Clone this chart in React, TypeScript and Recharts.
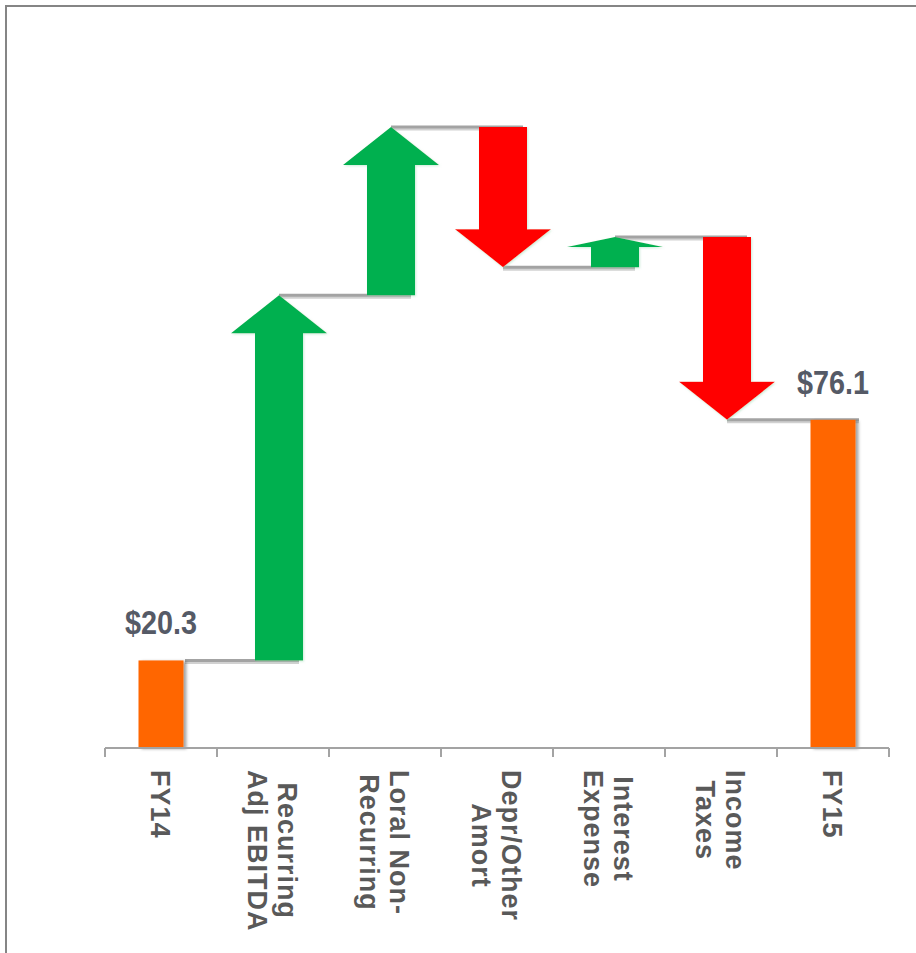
import { BarChart, Bar, XAxis, YAxis } from 'recharts'

// FY14 -> FY15 bridge, $M
const categories = [
  'FY14',
  'Recurring\nAdj EBITDA',
  'Loral Non-\nRecurring',
  'Depr/Other\nAmort',
  'Interest\nExpense',
  'Income\nTaxes',
  'FY15',
]
const changes = [20.3, 84.7, 39.0, -32.5, 7.0, -42.4, 76.1]
const isTotal = [true, false, false, false, false, false, true]
const totalLabels = ['$20.3', '', '', '', '', '', '$76.1']
const yDomain = [0, 160]

const W = 916
const H = 953
const margin = { top: 58, right: 27, bottom: 10, left: 105 }
const AXIS_H = 195
const BAND = (W - margin.left - margin.right) / categories.length

const ORANGE = '#ff6600'
const GREEN = '#00b050'
const RED = '#ff0000'
const LINE = '#a3a3a3'
const TEXT = '#595959'

const TICK_FONT = 27
const TICK_SPACING = 1
const TICK_LINE_H = 30
const ARROW_SHIFT = 6 // arrows sit a little right of the category centre

let running = 0
const rows = categories.map((name, i) => {
  const v = changes[i]
  let start = running
  let end = running + v
  if (isTotal[i]) {
    start = 0
    end = v
  }
  running = end
  return {
    name,
    base: Math.min(start, end),
    size: Math.abs(end - start),
    kind: isTotal[i] ? 'total' : v >= 0 ? 'up' : 'down',
    label: totalLabels[i],
    last: i === categories.length - 1,
  }
})

let measureCtx: CanvasRenderingContext2D | null = null
function textWidth(s: string) {
  if (!measureCtx) measureCtx = document.createElement('canvas').getContext('2d')
  if (!measureCtx) return s.length * TICK_FONT * 0.6
  measureCtx.font = `bold ${TICK_FONT}px "Liberation Sans"`
  return measureCtx.measureText(s).width + s.length * TICK_SPACING
}

function CategoryTick(props: any) {
  const { x, y, payload, index } = props
  const lines = String(payload.value).split('\n')
  const maxW = Math.max(...lines.map(textWidth))
  const cap = TICK_FONT * 0.72
  const n = lines.length
  return (
    <g>
      <line x1={x - BAND / 2} y1={y} x2={x - BAND / 2} y2={y + 9} stroke={LINE} strokeWidth={2} />
      {index === categories.length - 1 && (
        <line x1={x + BAND / 2} y1={y} x2={x + BAND / 2} y2={y + 9} stroke={LINE} strokeWidth={2} />
      )}
      <g transform={`translate(${x},${y + 22}) rotate(90)`}>
        {lines.map((l, k) => (
          <text
            key={k}
            x={maxW / 2}
            y={cap / 2 + (k - (n - 1) / 2) * TICK_LINE_H}
            textAnchor="middle"
            fontFamily="'Liberation Sans', Arial, sans-serif"
            fontWeight="bold"
            fontSize={TICK_FONT}
            letterSpacing={TICK_SPACING}
            fill={TEXT}
          >
            {l}
          </text>
        ))}
      </g>
    </g>
  )
}

function StepShape(props: any) {
  const { x, y, width, height, payload } = props
  if (x == null || y == null) return null
  const top = Math.min(y, y + height)
  const bot = Math.max(y, y + height)
  const kind = payload.kind
  const cx = x + width / 2 + (kind === 'total' ? 0 : ARROW_SHIFT)
  const h = bot - top
  const endY = kind === 'down' ? bot : top
  const lineStart = kind === 'total' ? x + width : cx
  const lineEnd = x + width / 2 + BAND + ARROW_SHIFT + width / 2 - 4

  const connector = !payload.last && (
    <g>
      <line x1={lineStart} y1={endY + 2} x2={lineEnd} y2={endY + 2} stroke="#000" strokeOpacity={0.18} strokeWidth={3} />
      <line x1={lineStart} y1={endY} x2={lineEnd} y2={endY} stroke={LINE} strokeWidth={3} />
    </g>
  )

  if (kind === 'total') {
    const bw = width - 3
    return (
      <g>
        {connector}
        <rect x={cx - bw / 2} y={top} width={bw} height={h} fill={ORANGE} filter="url(#shadow)" />
        {payload.label && (
          <text
            transform={`translate(${cx},${top - 26}) scale(0.9,1.06)`}
            textAnchor="middle"
            fontFamily="'Liberation Sans', Arial, sans-serif"
            fontWeight="bold"
            fontSize={32}
            fill="#555a66"
          >
            {payload.label}
          </text>
        )}
      </g>
    )
  }

  const hh = Math.min(38, h / 3)
  const sw = width / 2
  const hw = width
  let pts: number[][]
  if (kind === 'up') {
    pts = [
      [cx - sw, bot], [cx - sw, top + hh], [cx - hw, top + hh], [cx, top],
      [cx + hw, top + hh], [cx + sw, top + hh], [cx + sw, bot],
    ]
  } else {
    pts = [
      [cx - sw, top], [cx - sw, bot - hh], [cx - hw, bot - hh], [cx, bot],
      [cx + hw, bot - hh], [cx + sw, bot - hh], [cx + sw, top],
    ]
  }
  return (
    <g>
      {connector}
      <polygon
        points={pts.map((p) => p.join(',')).join(' ')}
        fill={kind === 'up' ? GREEN : RED}
        filter="url(#glow)"
      />
    </g>
  )
}

export default function App() {
  return (
    <div style={{ position: 'absolute', left: 0, top: 0, width: W, height: H, background: '#fff' }}>
      <div
        style={{
          position: 'absolute',
          left: 5,
          top: 5,
          right: 0,
          bottom: 0,
          borderTop: '2px solid #858585',
          borderLeft: '2px solid #858585',
        }}
      />
      <div style={{ position: 'absolute', left: 0, top: 0 }}>
        <BarChart width={W} height={H} data={rows} margin={margin} barSize={48}>
          <defs>
            <filter id="shadow" x="-20%" y="-5%" width="150%" height="115%">
              <feDropShadow dx={3} dy={1} stdDeviation={1.5} floodColor="#000" floodOpacity={0.35} />
            </filter>
            <filter id="glow" x="-10%" y="-10%" width="120%" height="120%">
              <feDropShadow dx={1} dy={1} stdDeviation={1} floodColor="#9ad8b0" floodOpacity={0.5} />
            </filter>
          </defs>
          <XAxis
            dataKey="name"
            height={AXIS_H}
            interval={0}
            tickLine={false}
            tickSize={0}
            tickMargin={0}
            axisLine={{ stroke: LINE, strokeWidth: 2 }}
            tick={<CategoryTick />}
          />
          <YAxis hide domain={yDomain} />
          <Bar dataKey="base" stackId="w" fill="transparent" isAnimationActive={false} />
          <Bar dataKey="size" stackId="w" shape={<StepShape />} isAnimationActive={false} />
        </BarChart>
      </div>
    </div>
  )
}
